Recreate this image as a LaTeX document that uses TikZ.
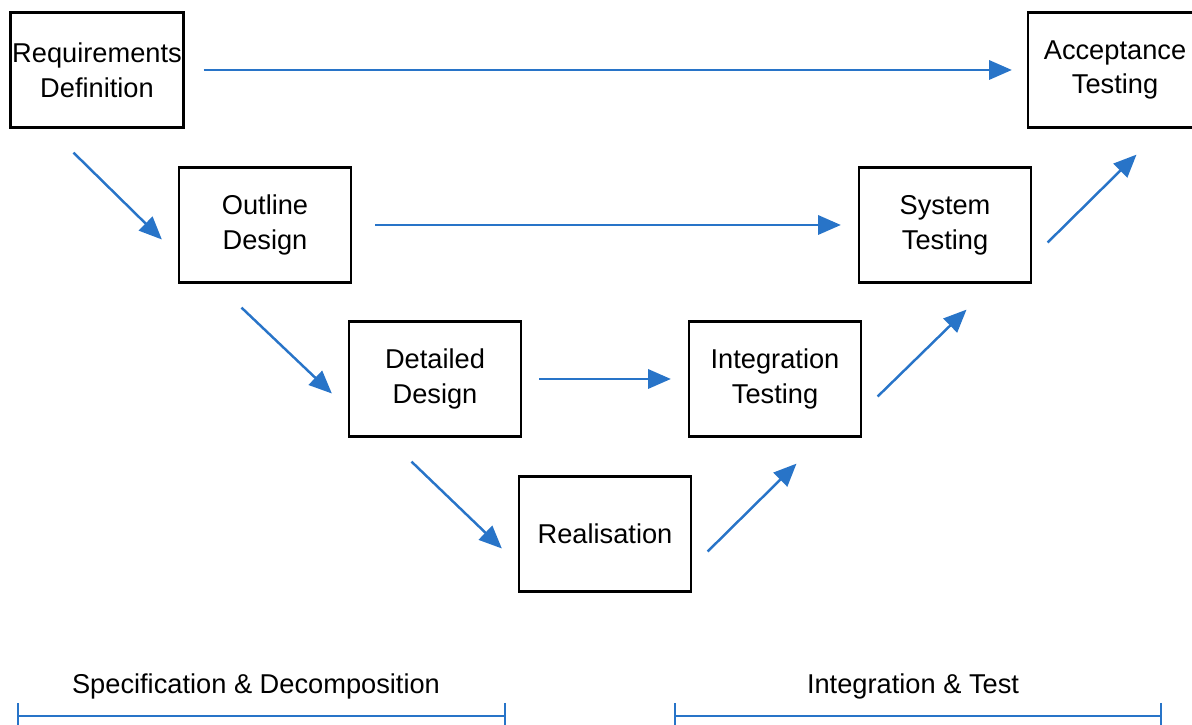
\documentclass[tikz,border=0pt]{standalone}
\usepackage{fontspec}
\setmainfont{Liberation Sans}
\usetikzlibrary{arrows.meta}
\definecolor{flowblue}{RGB}{40,116,200}

\begin{document}
\begin{tikzpicture}[
    phase/.style={draw=black, line width=1.3pt, minimum width=3.44cm, minimum height=2.3cm,
        align=center, inner sep=1pt, font=\fontsize{15.5}{19.8}\selectfont},
    flow/.style={draw=flowblue, line width=1.4pt, -{Triangle[length=13pt,width=11pt]}},
    span/.style={draw=flowblue, line width=1.4pt, {Bar[width=15pt]}-{Bar[width=15pt]}},
    spanlabel/.style={font=\fontsize{15.5}{19.8}\selectfont}
  ]
    \useasboundingbox (0,0) rectangle (23.84,14.5);
    % left arm of the V
    \node[phase] (req) at (1.94,13.1) {Requirements\\Definition};
    \node[phase] (outline) at (5.3,10.0) {Outline\\Design};
    \node[phase] (detailed) at (8.7,6.92) {Detailed\\Design};
    \node[phase] (real) at (12.1,3.82) {Realisation};
    % right arm of the V
    \node[phase] (integ) at (15.5,6.92) {Integration\\Testing};
    \node[phase] (system) at (18.9,10.0) {System\\Testing};
    \node[phase, minimum width=3.48cm] (accept) at (22.3,13.1) {Acceptance\\Testing};

    % links across
    \draw[flow, shorten <=0.38cm, shorten >=0.3cm] (req.east) -- (accept.west);
    \draw[flow, shorten <=0.46cm, shorten >=0.34cm] (outline.east) -- (system.west);
    \draw[flow, shorten <=0.34cm, shorten >=0.34cm] (detailed.east) -- (integ.west);

    % going down
    \foreach \a/\b in {req/outline, outline/detailed, detailed/real}
      \draw[flow] ([shift={(-0.47,-0.48)}]\a.south) -- ([shift={(-0.32,-0.29)}]\b.west);
    % going up
    \foreach \a/\b in {real/integ, integ/system, system/accept}
      \draw[flow] ([shift={(0.31,-0.35)}]\a.east) -- ([shift={(0.43,-0.52)}]\b.south);

    % phase spans
    \coordinate (specL) at (0.34,0.18);
    \coordinate (specR) at (10.12,0.18);
    \coordinate (testL) at (13.48,0.18);
    \coordinate (testR) at (23.24,0.18);
    \draw[span] (specL) -- (specR);
    \draw[span] (testL) -- (testR);
    \node[spanlabel] (spec) at (5.12,0.78) {Specification \& Decomposition};
    \node[spanlabel] (test) at (18.26,0.78) {Integration \& Test};
\end{tikzpicture}
\end{document}
